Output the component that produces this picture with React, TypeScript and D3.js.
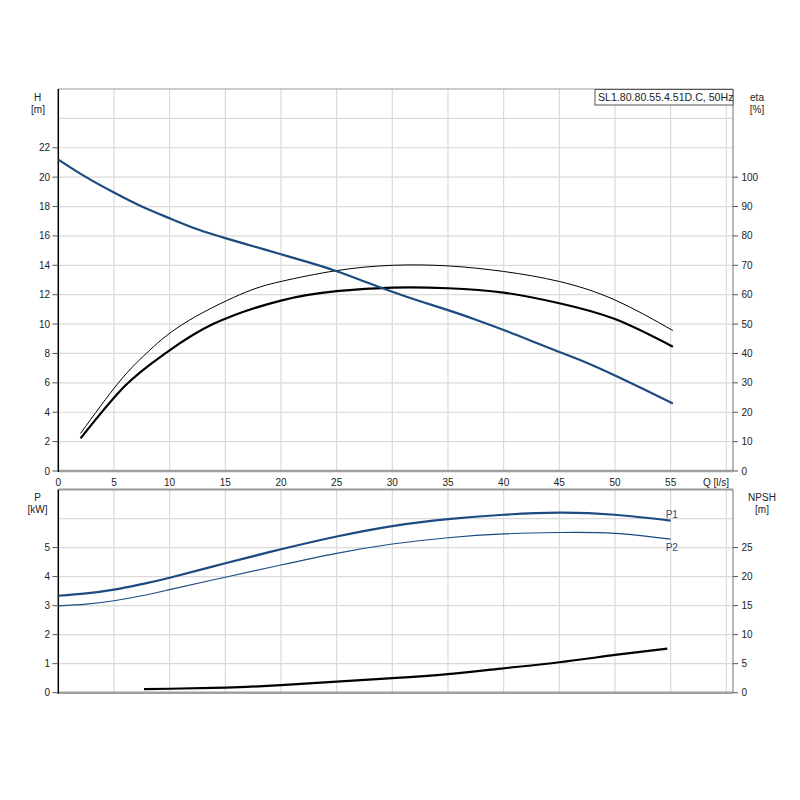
import * as React from 'react'
import * as d3 from 'd3'

// head curve H [m]
const qHead = [0, 2.5, 5, 7.5, 10, 12.5, 15, 17.5, 20, 22.5, 25, 27.5, 30, 32.5, 35, 37.5, 40, 42.5, 45, 47.5, 50, 52.5, 55.2];
const head = [21.2, 20.0, 18.95, 18.0, 17.2, 16.45, 15.85, 15.3, 14.75, 14.2, 13.6, 12.9, 12.2, 11.55, 10.95, 10.3, 9.6, 8.85, 8.1, 7.35, 6.5, 5.6, 4.6];

// efficiency curves eta [%]
const qEtaUpper = [2, 5.4, 7.9, 11.2, 16.3, 20, 25, 30, 35, 40, 45, 50, 55.2];
const etaUpper = [12.8, 30, 40, 50, 60, 64.5, 68.2, 70.0, 69.8, 67.9, 64.5, 58.2, 47.8];
const qEtaLower = [2, 6, 9.6, 13.9, 20, 25, 30, 35, 40, 45, 50, 55.2];
const etaLower = [11.1, 29.0, 40, 50, 58.0, 61.2, 62.4, 62.2, 60.7, 57.1, 51.7, 42.3];

// power curves P [kW]
const qPower = [0, 2.5, 5, 7.5, 10, 15, 20, 25, 30, 35, 40, 45, 50, 55];
const p1 = [3.34, 3.42, 3.55, 3.74, 3.96, 4.46, 4.94, 5.38, 5.74, 5.98, 6.13, 6.2, 6.13, 5.93];
const p2 = [2.99, 3.05, 3.17, 3.34, 3.55, 3.98, 4.40, 4.80, 5.12, 5.34, 5.47, 5.52, 5.49, 5.29];

// NPSH [m]
const qNpsh = [7.7, 10, 15, 20, 25, 30, 35, 40, 45, 50, 54.7];
const npsh = [0.6, 0.68, 0.88, 1.3, 1.9, 2.5, 3.2, 4.2, 5.25, 6.5, 7.6];

const qTicks = [0, 5, 10, 15, 20, 25, 30, 35, 40, 45, 50, 55];
const qGrid = [5, 10, 15, 20, 25, 30, 35, 40, 45, 50, 55, 60];
const hTicks = [0, 2, 4, 6, 8, 10, 12, 14, 16, 18, 20, 22];
const hGrid = [2, 4, 6, 8, 10, 12, 14, 16, 18, 20, 22, 24];
const etaTicks = [0, 10, 20, 30, 40, 50, 60, 70, 80, 90, 100];
const pTicks = [0, 1, 2, 3, 4, 5];
const pGrid = [1, 2, 3, 4, 5, 6];
const npshTicks = [0, 5, 10, 15, 20, 25];

const title = 'SL1.80.80.55.4.51D.C, 50Hz';

const FONT = '"Liberation Sans", Arial, sans-serif';
const BLUE = '#1c4b80';
const GRID = '#dadada';
const TXT = '#222';

const App: React.FC = () => {
  const left = 58.3, right = 733;
  const x = d3.scaleLinear().domain([0, 60.6]).range([left, right]);

  const topY0 = 471, topY1 = 89;
  const yH = d3.scaleLinear().domain([0, 26]).range([topY0, topY1]);
  const yEta = d3.scaleLinear().domain([0, 130]).range([topY0, topY1]);

  const botY0 = 692.7, botY1 = 489.5;
  const yP = d3.scaleLinear().domain([0, 7]).range([botY0, botY1]);
  const yN = d3.scaleLinear().domain([0, 35]).range([botY0, botY1]);

  const mk = (qs: number[], vs: number[], sy: d3.ScaleLinear<number, number>) =>
    d3.line<number>()
      .x((_, i) => x(qs[i]))
      .y(v => sy(v))
      .curve(d3.curveNatural)(vs) || '';

  const fs = 10;

  return (
    <svg width={800} height={800} style={{ position: 'absolute', left: 0, top: 0, background: '#fff' }}
      fontFamily={FONT} fontSize={fs}>
      <rect width={800} height={800} fill="#fff" />

      {/* ---------- top plot: H and eta ---------- */}
      {qGrid.map(q => (
        <line key={'tv' + q} x1={x(q)} x2={x(q)} y1={topY1} y2={topY0} stroke={GRID} strokeWidth={1.2} />
      ))}
      {hGrid.map(h => (
        <line key={'th' + h} x1={left} x2={right} y1={yH(h)} y2={yH(h)} stroke={GRID} strokeWidth={1.2} />
      ))}
      <line x1={left} x2={right} y1={topY1} y2={topY1} stroke="#999" strokeWidth={1.2} />
      <line x1={right} x2={right} y1={topY1} y2={topY0} stroke="#888" strokeWidth={1.2} />
      <line x1={left} x2={right} y1={topY0} y2={topY0} stroke="#a0a0a0" strokeWidth={2.5} />
      <line x1={left} x2={left} y1={topY1} y2={topY0 + 1} stroke="#000" strokeWidth={1.5} />

      {hTicks.map(h => (
        <g key={'hl' + h}>
          <line x1={52.5} x2={left} y1={yH(h)} y2={yH(h)} stroke="#555" />
          <text x={50} y={yH(h)} dy="0.35em" textAnchor="end" fill={TXT}>{h}</text>
        </g>
      ))}
      {etaTicks.map(e => (
        <g key={'el' + e}>
          <line x1={right} x2={right + 5} y1={yEta(e)} y2={yEta(e)} stroke="#555" />
          <text x={741.5} y={yEta(e)} dy="0.35em" fill={TXT}>{e}</text>
        </g>
      ))}
      {qTicks.map(q => (
        <text key={'ql' + q} x={x(q)} y={482} dy="0.35em" textAnchor="middle" fill={TXT}>{q}</text>
      ))}
      <text x={729} y={482} dy="0.35em" textAnchor="end" fill={TXT}>Q [l/s]</text>

      <text x={37.5} y={97} dy="0.35em" textAnchor="middle" fill={TXT}>H</text>
      <text x={38} y={109.5} dy="0.35em" textAnchor="middle" fill={TXT}>[m]</text>
      <text x={757} y={97} dy="0.35em" textAnchor="middle" fill={TXT}>eta</text>
      <text x={757} y={109.5} dy="0.35em" textAnchor="middle" fill={TXT}>[%]</text>

      <rect x={595} y={topY1 + 0.5} width={right - 595} height={15.5} fill="#fff" stroke="#555" strokeWidth={1} />
      <text x={598} y={97.5} dy="0.35em" fill={TXT} fontSize={10.6}>{title}</text>

      <path d={mk(qEtaUpper, etaUpper, yEta)} fill="none" stroke="#000" strokeWidth={1} />
      <path d={mk(qEtaLower, etaLower, yEta)} fill="none" stroke="#000" strokeWidth={2.2} />
      <path d={mk(qHead, head, yH)} fill="none" stroke={BLUE} strokeWidth={2.2} />

      {/* ---------- bottom plot: P and NPSH ---------- */}
      {qGrid.map(q => (
        <line key={'bv' + q} x1={x(q)} x2={x(q)} y1={botY1} y2={botY0} stroke={GRID} strokeWidth={1.2} />
      ))}
      {pGrid.map(p => (
        <line key={'bh' + p} x1={left} x2={right} y1={yP(p)} y2={yP(p)} stroke={GRID} strokeWidth={1.2} />
      ))}
      <line x1={left} x2={right} y1={botY1} y2={botY1} stroke="#999" strokeWidth={2} />
      <line x1={right} x2={right} y1={botY1} y2={botY0} stroke="#888" strokeWidth={1.2} />
      <line x1={left} x2={right} y1={botY0} y2={botY0} stroke="#a0a0a0" strokeWidth={2.5} />
      <line x1={left} x2={left} y1={botY1} y2={botY0 + 1} stroke="#000" strokeWidth={1.5} />

      {pTicks.map(p => (
        <g key={'pl' + p}>
          <line x1={52.5} x2={left} y1={yP(p)} y2={yP(p)} stroke="#555" />
          <text x={50} y={yP(p)} dy="0.35em" textAnchor="end" fill={TXT}>{p}</text>
        </g>
      ))}
      {npshTicks.map(n => (
        <g key={'nl' + n}>
          <line x1={right} x2={right + 5} y1={yN(n)} y2={yN(n)} stroke="#555" />
          <text x={741.5} y={yN(n)} dy="0.35em" fill={TXT}>{n}</text>
        </g>
      ))}

      <text x={37.5} y={497} dy="0.35em" textAnchor="middle" fill={TXT}>P</text>
      <text x={37.5} y={509} dy="0.35em" textAnchor="middle" fill={TXT}>[kW]</text>
      <text x={762} y={497} dy="0.35em" textAnchor="middle" fill={TXT}>NPSH</text>
      <text x={762} y={509} dy="0.35em" textAnchor="middle" fill={TXT}>[m]</text>

      <path d={mk(qPower, p1, yP)} fill="none" stroke={BLUE} strokeWidth={2.2} />
      <path d={mk(qPower, p2, yP)} fill="none" stroke={BLUE} strokeWidth={1.1} />
      <path d={mk(qNpsh, npsh, yN)} fill="none" stroke="#000" strokeWidth={2.2} />

      <text x={x(55) - 5} y={yP(p1[p1.length - 1]) - 6.5} dy="0.35em" fill={BLUE}>P1</text>
      <text x={x(55) - 5} y={yP(p2[p2.length - 1]) + 8} dy="0.35em" fill={BLUE}>P2</text>
    </svg>
  );
};

export default App;
